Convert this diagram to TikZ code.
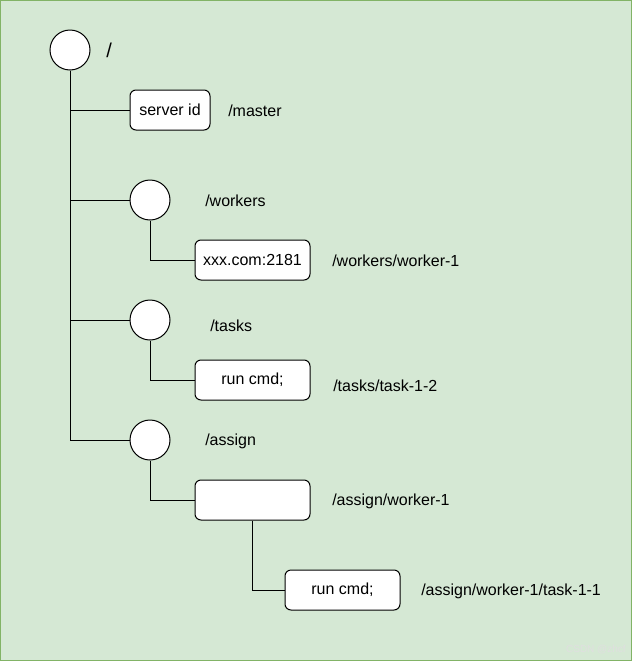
\documentclass[tikz,border=0pt]{standalone}
\usepackage{fontspec}
\setmainfont{Liberation Sans}
\definecolor{bgfill}{HTML}{D5E8D4}
\definecolor{bgline}{HTML}{82B366}
\begin{document}
\begin{tikzpicture}[x=0.75pt,y=-0.75pt,
  znode/.style={circle,draw=black,fill=white,line width=0.75pt,minimum size=30pt,inner sep=0pt},
  zbox/.style={rectangle,rounded corners=4.5pt,draw=black,fill=white,line width=0.75pt,minimum height=30pt,inner sep=0pt,font=\fontsize{12}{14}\selectfont},
  zlabel/.style={anchor=west,inner sep=0pt,font=\fontsize{12}{14}\selectfont},
  zline/.style={draw=black,line width=0.75pt}]
\useasboundingbox (0,0) rectangle (632,661);
\draw[fill=bgfill,draw=bgline,line width=1pt] (0.7,0.7) rectangle (631.3,660.3);
% nodes
\node[znode] (root) at (70,50) {};
\node[zlabel,font=\fontsize{15}{18}\selectfont] (rootl) at (106,50) {/};
\node[zbox,minimum width=60pt] (master) at (170,110) {\raisebox{-0.75pt}{server id}};
\node[zlabel] (masterl) at (228,111) {/master};
\node[znode] (workers) at (150,200) {};
\node[zlabel] (workersl) at (205,201) {/workers};
\node[zbox,minimum width=86.25pt] (wbox) at (252.5,260) {\raisebox{-0.75pt}{xxx.com:2181}};
\node[zlabel] (wboxl) at (332,261) {/workers/worker-1};
\node[znode] (tasks) at (150,320) {};
\node[zlabel] (tasksl) at (210,326) {/tasks};
\node[zbox,minimum width=86.25pt] (tbox) at (252.5,380) {\raisebox{-0.75pt}{run cmd;}};
\node[zlabel] (tboxl) at (333,386) {/tasks/task-1-2};
\node[znode] (assign) at (150,440) {};
\node[zlabel] (assignl) at (205,441) {/assign};
\node[zbox,minimum width=86.25pt] (abox) at (252.5,500) {};
\node[zlabel] (aboxl) at (332,501) {/assign/worker-1};
\node[zbox,minimum width=86.25pt] (atask) at (342.5,590) {\raisebox{-0.75pt}{run cmd;}};
\node[zlabel] (ataskl) at (421,591) {/assign/worker-1/task-1-1};
\node[anchor=east,inner sep=0pt,text=white!75!gray,font=\fontsize{7.5}{8}\selectfont] (wm) at (626,650) {CSDN @zhcf};
% connectors
\draw[zline] (root.south) |- (master.west);
\draw[zline] (root.south) |- (workers.west);
\draw[zline] (root.south) |- (tasks.west);
\draw[zline] (root.south) |- (assign.west);
\draw[zline] (workers.south) |- (wbox.west);
\draw[zline] (tasks.south) |- (tbox.west);
\draw[zline] (assign.south) |- (abox.west);
\draw[zline] (abox.south) |- (atask.west);
\end{tikzpicture}
\end{document}
